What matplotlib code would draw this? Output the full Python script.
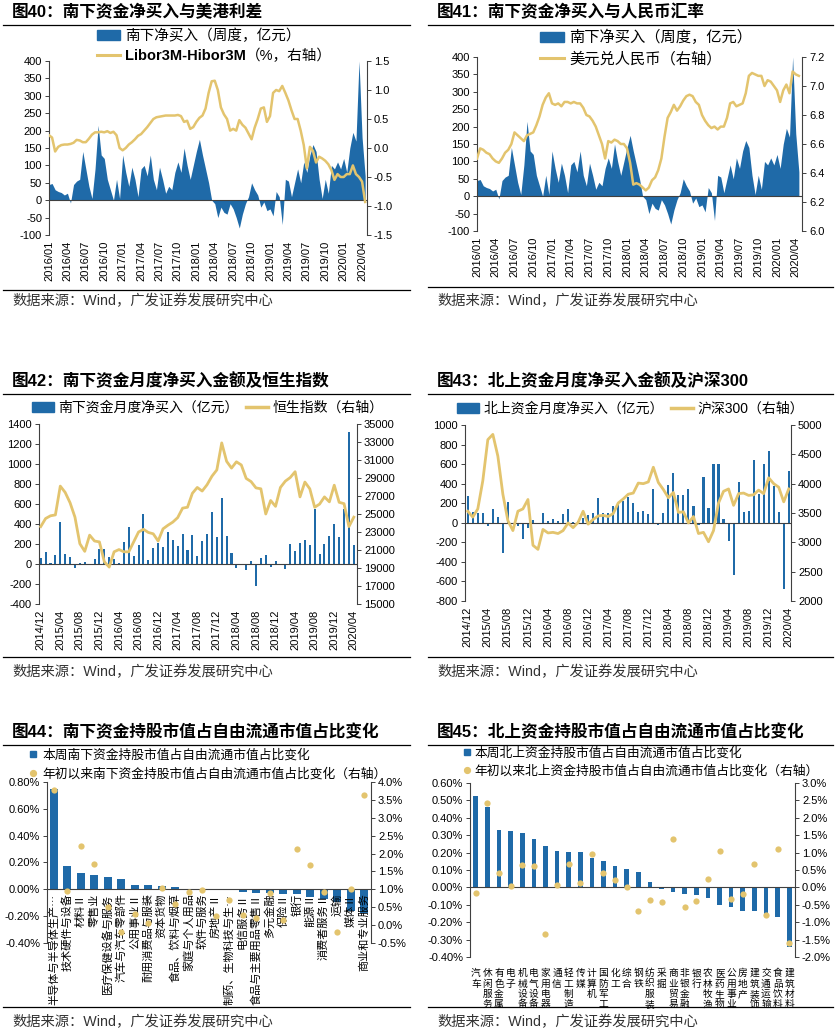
import numpy as np
import matplotlib
matplotlib.use('Agg')
import matplotlib.pyplot as plt
from matplotlib.lines import Line2D
from matplotlib.patches import Patch
from matplotlib.ticker import MultipleLocator, FixedLocator, FuncFormatter

plt.rcParams['font.family'] = ['Liberation Sans', 'Noto Sans CJK SC']
plt.rcParams['axes.unicode_minus'] = False

BLUE = '#1F6AA8'
GOLD = '#E3C46E'
DARK = '#404040'
SRC = '数据来源：Wind，广发证券发展研究中心'
LEG_FS = 10.5

# ---- weekly southbound net buy (half-month samples from 2016/01), 亿元
south_weekly = [45, 48, 30, 25, 22, 15, 20, -8, 45, 55, 60, 140, 90, 40, 5, 90,
                215, 130, 120, 60, 30, 0, 60, 5, 130, 80, 40, 95, 60, 10, 90, 100,
                70, 130, 60, 30, 95, 60, 20, 40, 30, 80, 110, 80, 150, 100, 60, 100,
                140, 175, 130, 90, 50, 0, -10, -50, -20, -35, -40, -10, -25, -50, -80, -40,
                -10, 10, 50, 30, 15, -20, -5, -30, -25, -45, 25, 10, -70, 60, 55, 10,
                50, 90, 50, 110, 80, 130, 160, 140, 60, 5, 60, 20, 100, 90, 110, 90,
                120, 80, 150, 195, 170, 400, 180, 70]
# Libor3M-Hibor3M, %
libor_hibor = [0.22, 0.18, -0.06, 0.02, 0.05, 0.06, 0.06, 0.07, 0.09, 0.14, 0.13, 0.10, 0.10, 0.16,
               0.23, 0.27, 0.27, 0.28, 0.27, 0.29, 0.26, 0.28, 0.22, 0.00, -0.04, 0.00, 0.06, 0.10,
               0.15, 0.21, 0.24, 0.30, 0.36, 0.43, 0.50, 0.53, 0.54, 0.55, 0.56, 0.56, 0.56, 0.56,
               0.57, 0.55, 0.45, 0.47, 0.33, 0.36, 0.45, 0.52, 0.56, 0.68, 0.95, 1.15, 1.16, 1.00,
               0.70, 0.58, 0.50, 0.30, 0.33, 0.30, 0.48, 0.40, 0.35, 0.25, 0.15, 0.35, 0.50, 0.68,
               0.70, 0.45, 0.55, 0.95, 1.00, 0.98, 1.07, 0.95, 0.82, 0.65, 0.50, 0.50, 0.30, 0.05,
               -0.35, 0.02, -0.05, -0.25, -0.15, -0.18, -0.22, -0.28, -0.38, -0.55, -0.45, -0.50,
               -0.50, -0.45, -0.45, -0.30, -0.45, -0.50, -0.58, -0.93]
# USD/CNY
usdcny = [6.50, 6.57, 6.56, 6.54, 6.53, 6.50, 6.48, 6.47, 6.50, 6.54, 6.56, 6.60, 6.68, 6.66,
          6.64, 6.62, 6.66, 6.67, 6.68, 6.73, 6.79, 6.87, 6.92, 6.95, 6.88, 6.87, 6.88, 6.86,
          6.89, 6.89, 6.88, 6.89, 6.88, 6.88, 6.85, 6.80, 6.79, 6.76, 6.72, 6.66, 6.60, 6.50,
          6.62, 6.61, 6.63, 6.62, 6.60, 6.60, 6.57, 6.47, 6.32, 6.33, 6.32, 6.30, 6.28, 6.30,
          6.35, 6.37, 6.42, 6.50, 6.65, 6.78, 6.82, 6.87, 6.83, 6.86, 6.90, 6.93, 6.94, 6.93,
          6.89, 6.87, 6.80, 6.76, 6.73, 6.71, 6.72, 6.70, 6.72, 6.72, 6.78, 6.88, 6.89, 6.86,
          6.87, 6.88, 6.95, 7.07, 7.09, 7.08, 7.07, 7.07, 7.00, 7.04, 7.03, 7.00, 6.97, 6.89,
          6.97, 7.01, 6.95, 7.10, 7.08, 7.07]

# ---- monthly, 2014/12 .. 2020/04
south_monthly = [60, 123, 10, 87, 420, 97, 73, -40, 10, 20, 0, 55, 150, 155, 70, 50, 10,
                 220, 375, 85, 195, 505, 40, 165, 215, 170, 325, 245, 180, 305, 140, 290,
                 80, 230, 300, 520, 275, 660, 280, 110, -40, -10, -60, 35, -215, 60, 95,
                 -30, 35, 0, -50, 200, 135, 210, 245, 190, 550, 105, 205, 285, 400, 270,
                 550, 1320, 190]
hsi = [23600, 24500, 24800, 24900, 28100, 27400, 26250, 24650, 21700, 20850, 22650, 22000,
       21900, 19700, 19100, 20800, 21050, 20800, 20800, 21900, 23000, 23300, 22950, 22800,
       22000, 23350, 23750, 24100, 24600, 25650, 25750, 27300, 27950, 27550, 28250, 29200,
       29900, 32900, 30850, 30100, 30800, 30450, 28950, 28600, 27900, 27800, 25000, 26500,
       25850, 27950, 28650, 29050, 29700, 26900, 28550, 27800, 25750, 26100, 26900, 26350,
       28200, 26300, 26150, 23600, 24650]
north_monthly = [275, 110, 100, 95, -35, 140, 55, -310, 210, 0, -30, -165, -50, 30, 0, 105,
                 20, 35, 20, 85, 145, 5, 20, 50, 75, 95, 255, 105, 95, 175, 200, 225, 265,
                 205, 115, 120, 85, 345, -25, 95, 385, 510, 285, 285, 350, 175, -20, 470,
                 155, 605, 600, 40, -185, -535, 420, 115, 125, 640, 295, 605, 730, 380, 110,
                 -680, 530]
csi300 = [3530, 3430, 3570, 4050, 4750, 4840, 4470, 3820, 3370, 3200, 3530, 3570, 3730,
          2950, 2880, 3220, 3160, 3170, 3150, 3200, 3330, 3250, 3340, 3530, 3310, 3390,
          3450, 3460, 3440, 3490, 3670, 3740, 3820, 3840, 4010, 4000, 4030, 4280, 4020,
          3900, 3760, 3850, 3510, 3520, 3330, 3440, 3150, 3170, 3010, 3200, 3670, 3870,
          3910, 3630, 3830, 3840, 3800, 3810, 3890, 3830, 4100, 4000, 3940, 3690, 3910]

# ---- industry holdings change, %
labels44 = ['半导体与半导体生产…', '技术硬件与设备', '材料Ⅱ', '零售业', '医疗保健设备与服务',
            '汽车与汽车零部件', '公用事业Ⅱ', '耐用消费品与服装', '资本货物', '食品、饮料与烟草',
            '家庭与个人用品', '软件与服务', '房地产Ⅱ', '制药、生物科技与生…', '电信服务Ⅱ',
            '食品与主要用品零售Ⅱ', '多元金融', '保险Ⅱ', '银行', '能源Ⅱ', '消费者服务Ⅱ',
            '运输', '媒体Ⅱ', '商业和专业服务']
week44 = [0.75, 0.175, 0.12, 0.105, 0.095, 0.075, 0.033, 0.033, 0.028, 0.015, 0.003, 0.0,
          -0.003, -0.005, -0.022, -0.025, -0.027, -0.033, -0.035, -0.06, -0.075, -0.093,
          -0.16, -0.18]
ytd44 = [3.77, 0.96, 2.22, 1.70, 0.50, -0.18, 0.30, 0.05, 1.05, 0.60, 0.93, 0.98, 0.26,
         0.70, 0.29, 0.20, 0.90, 0.15, 2.13, 1.68, 0.93, -0.20, 1.00, 3.65]

labels45 = ['汽车', '休闲服务', '有色金属', '电子', '机械设备', '电气设备', '家用电器', '通信',
            '轻工制造', '传媒', '计算机', '国防军工', '化工', '综合', '钢铁', '纺织服装', '采掘',
            '商业贸易', '非银金融', '银行', '农林牧渔', '医药生物', '公用事业', '房地产',
            '建筑装饰', '交通运输', '食品饮料', '建筑材料']
week45 = [0.527, 0.46, 0.331, 0.323, 0.311, 0.279, 0.237, 0.212, 0.206, 0.202, 0.169,
          0.154, 0.123, 0.108, 0.087, 0.03, -0.01, -0.025, -0.04, -0.045, -0.06, -0.10,
          -0.11, -0.135, -0.135, -0.152, -0.168, -0.345]
ytd45 = [-0.15, 2.42, 0.42, 0.05, 0.63, 0.61, -1.33, 0.07, 0.68, 0.14, 0.96, 0.42, 0.20,
         0.00, -0.69, -0.35, -0.43, 1.40, -0.55, -0.39, 0.24, 1.06, -0.34, -0.20, 0.66,
         -0.79, 1.09, -1.60]

W, H = 837, 1035
fig = plt.figure(figsize=(W / 100, H / 100), dpi=100)
fig.patch.set_facecolor('white')


def fx(x):
    return x / W


def fy(y):
    return 1 - y / H


def add_ax(l, t, r, b):
    return fig.add_axes([fx(l), fy(b), (r - l) / W, (b - t) / H])


def frame(x0, x1, ty, ry, by, sy, title):
    fig.text(fx(x0 + 9), fy(ty), title, fontsize=12, fontweight='bold', va='center')
    fig.add_artist(Line2D([fx(x0), fx(x1)], [fy(ry)] * 2, color='black', lw=0.9))
    fig.add_artist(Line2D([fx(x0), fx(x1)], [fy(by)] * 2, color='black', lw=0.9))
    fig.text(fx(x0 + 9), fy(sy), SRC, fontsize=10.3, va='center', color='#333333')


def style(ax, axr, zero_line=True):
    for s in ['top', 'right', 'bottom']:
        ax.spines[s].set_visible(False)
    for s in ['top', 'left', 'bottom']:
        axr.spines[s].set_visible(False)
    ax.spines['left'].set_color(DARK)
    axr.spines['right'].set_color(DARK)
    ax.spines['left'].set_linewidth(0.8)
    axr.spines['right'].set_linewidth(0.8)
    ax.tick_params(axis='y', labelsize=8, length=3, width=0.7, color=DARK, pad=2)
    axr.tick_params(axis='y', labelsize=8, length=3, width=0.7, color=DARK, pad=2)
    ax.tick_params(axis='x', length=0)
    if zero_line:
        ax.axhline(0, color=DARK, lw=0.8, zorder=3)


def month_label(start_year, start_month, k):
    n = start_month - 1 + k
    return f"{start_year + n // 12}/{n % 12 + 1:02d}"


def legend(handles, labels, x, y, **kw):
    opts = dict(loc='upper left', bbox_to_anchor=(fx(x), fy(y)), frameon=False,
                borderpad=0, borderaxespad=0, handlelength=1.6, handletextpad=0.3,
                labelspacing=0.4, fontsize=LEG_FS)
    opts.update(kw)
    return fig.legend(handles, labels, **opts)


def dot_handles():
    return [Line2D([], [], ls='none', marker='s', color=BLUE, ms=4.2),
            Line2D([], [], ls='none', marker='o', color=GOLD, ms=4.2)]


# ================= 图40 =================
frame(3, 410, 12, 24.5, 290, 301, '图40：南下资金净买入与美港利差')
wk_m = np.arange(len(south_weekly)) * 0.5
ax = add_ax(49, 61, 367, 235)
ax.fill_between(wk_m, 0, south_weekly, color=BLUE, lw=0)
ax.set_xlim(0, 51.8)
ax.set_ylim(-100, 400)
ax.yaxis.set_major_locator(MultipleLocator(50))
ticks = np.arange(0, 52, 3)
ax.set_xticks(ticks)
ax.set_xticklabels([month_label(2016, 1, k) for k in ticks], rotation=90, fontsize=8)
ax.tick_params(axis='x', pad=4)
axr = ax.twinx()
axr.plot(wk_m, libor_hibor, color=GOLD, lw=1.8)
axr.set_ylim(-1.5, 1.5)
axr.yaxis.set_major_locator(MultipleLocator(0.5))
axr.yaxis.set_major_formatter(FuncFormatter(lambda v, p: f"{v:.1f}"))
style(ax, axr)
leg40 = legend([Patch(color=BLUE), Line2D([], [], color=GOLD, lw=2.2)],
               ['南下净买入（周度，亿元）', 'Libor3M-Hibor3M'], 97, 29)
leg40.get_texts()[1].set_fontweight('bold')

# ================= 图41 =================
frame(428, 833, 12, 24.5, 287, 301, '图41：南下资金净买入与人民币汇率')
ax = add_ax(477, 57, 802, 231)
ax.fill_between(wk_m, 0, south_weekly, color=BLUE, lw=0)
ax.set_xlim(0, 52.0)
ax.set_ylim(-100, 400)
ax.yaxis.set_major_locator(MultipleLocator(50))
ax.set_xticks(ticks)
ax.set_xticklabels([month_label(2016, 1, k) for k in ticks], rotation=90, fontsize=8)
ax.tick_params(axis='x', pad=4)
axr = ax.twinx()
axr.plot(wk_m, usdcny, color=GOLD, lw=1.8)
axr.set_ylim(6.0, 7.2)
axr.yaxis.set_major_locator(MultipleLocator(0.2))
axr.yaxis.set_major_formatter(FuncFormatter(lambda v, p: f"{v:.1f}"))
style(ax, axr)
legend([Patch(color=BLUE), Line2D([], [], color=GOLD, lw=2.2)],
       ['南下净买入（周度，亿元）', '美元兑人民币（右轴）'], 540, 30, fontsize=11)

# ================= 图42 =================
frame(3, 410, 381, 393.5, 657, 672, '图42：南下资金月度净买入金额及恒生指数')
mo = np.arange(len(south_monthly))
mticks = np.arange(0, len(mo), 4)
ax = add_ax(39, 424, 357, 604)
ax.bar(mo, south_monthly, width=0.42, color=BLUE)
ax.set_xlim(-0.35, 64.65)
ax.set_ylim(-400, 1400)
ax.yaxis.set_major_locator(MultipleLocator(200))
ax.set_xticks(mticks)
ax.set_xticklabels([month_label(2014, 12, k) for k in mticks], rotation=90, fontsize=8)
ax.tick_params(axis='x', pad=4)
axr = ax.twinx()
axr.plot(mo, hsi, color=GOLD, lw=2)
axr.set_ylim(15000, 35000)
axr.yaxis.set_major_locator(FixedLocator(np.arange(15000, 35001, 2000)))
style(ax, axr)
legend([Patch(color=BLUE), Line2D([], [], color=GOLD, lw=2.5)],
       ['南下资金月度净买入（亿元）', '恒生指数（右轴）'], 32, 401, ncol=2,
       columnspacing=0.5, fontsize=10)

# ================= 图43 =================
frame(428, 833, 381, 393.5, 657, 672, '图43：北上资金月度净买入金额及沪深300')
ax = add_ax(465, 425, 791, 601)
ax.bar(mo, north_monthly, width=0.42, color=BLUE)
ax.set_xlim(-0.55, 64.45)
ax.set_ylim(-800, 1000)
ax.yaxis.set_major_locator(MultipleLocator(200))
ax.set_xticks(mticks)
ax.set_xticklabels([month_label(2014, 12, k) for k in mticks], rotation=90, fontsize=8)
ax.tick_params(axis='x', pad=4)
axr = ax.twinx()
axr.plot(mo, csi300, color=GOLD, lw=2)
axr.set_ylim(2000, 5000)
axr.yaxis.set_major_locator(MultipleLocator(500))
style(ax, axr)
legend([Patch(color=BLUE), Line2D([], [], color=GOLD, lw=2.5)],
       ['北上资金月度净买入（亿元）', '沪深300（右轴）'], 457, 402, ncol=2,
       columnspacing=0.5, fontsize=10)

# ================= 图44 =================
frame(3, 410, 732, 744.5, 1007, 1022, '图44：南下资金持股市值占自由流通市值占比变化')
ix = np.arange(len(labels44))
ax = add_ax(47, 782, 371, 943)
ax.bar(ix, week44, width=0.56, color=BLUE)
ax.set_xlim(-0.5, len(ix) - 0.5)
ax.set_ylim(-0.4, 0.8)
ax.yaxis.set_major_locator(MultipleLocator(0.2))
ax.yaxis.set_major_formatter(FuncFormatter(lambda v, p: f"{v:.2f}%"))
axr = ax.twinx()
axr.plot(ix, ytd44, 'o', color=GOLD, ms=4.5, mec='none')
axr.set_ylim(-0.5, 4.0)
axr.yaxis.set_major_locator(MultipleLocator(0.5))
axr.yaxis.set_major_formatter(FuncFormatter(lambda v, p: f"{v:.1f}%"))
style(ax, axr, zero_line=False)
ax.spines['bottom'].set_visible(True)
ax.spines['bottom'].set_position(('data', 0))
ax.spines['bottom'].set_color(DARK)
ax.spines['bottom'].set_linewidth(0.8)
ax.set_xticks(ix)
ax.set_xticklabels(labels44, rotation=90, fontsize=8, fontfamily='Noto Sans CJK SC')
ax.tick_params(axis='x', length=0, pad=3)
legend(dot_handles(),
       ['本周南下资金持股市值占自由流通市值占比变化',
        '年初以来南下资金持股市值占自由流通市值占比变化（右轴）'], 30, 749,
       handlelength=0.5, handletextpad=0.45, labelspacing=0.5, fontsize=9.2)

# ================= 图45 =================
frame(428, 833, 732, 744.5, 1007, 1022, '图45：北上资金持股市值占自由流通市值占比变化')
jx = np.arange(len(labels45))
ax = add_ax(470, 783, 795, 957)
ax.bar(jx, week45, width=0.4, color=BLUE)
ax.set_xlim(-0.5, len(jx) - 0.5)
ax.set_ylim(-0.4, 0.6)
ax.yaxis.set_major_locator(MultipleLocator(0.1))
ax.yaxis.set_major_formatter(FuncFormatter(lambda v, p: f"{v:.2f}%"))
axr = ax.twinx()
axr.plot(jx, ytd45, 'o', color=GOLD, ms=4.5, mec='none')
axr.set_ylim(-2.0, 3.0)
axr.yaxis.set_major_locator(MultipleLocator(0.5))
axr.yaxis.set_major_formatter(FuncFormatter(lambda v, p: f"{v:.1f}%"))
style(ax, axr)
ax.set_xticks(jx)
ax.set_xticklabels(['\n'.join(s) for s in labels45], fontsize=7, linespacing=1.05,
                   fontfamily='Noto Sans CJK SC')
ax.tick_params(axis='x', length=0, pad=8)
legend(dot_handles(),
       ['本周北上资金持股市值占自由流通市值占比变化',
        '年初以来北上资金持股市值占自由流通市值占比变化（右轴）'], 464, 747,
       handlelength=0.5, handletextpad=0.35, labelspacing=0.45, fontsize=9.2)

# right-axis note after the bold Libor label
fig.canvas.draw()
bb = leg40.get_texts()[1].get_window_extent()
fig.text(bb.x1 / W, (bb.y0 + bb.y1) / 2 / H, '（%，右轴）', fontsize=LEG_FS, va='center')

fig.savefig('out.png', dpi=100, facecolor='white')
